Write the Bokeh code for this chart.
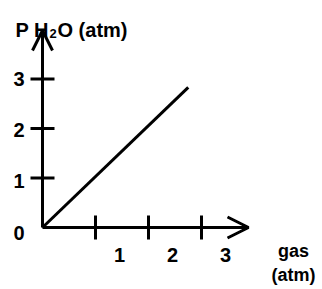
from bokeh.plotting import figure
from bokeh.models import Range1d, Arrow, OpenHead
from bokeh.core.properties import value
from bokeh.embed import file_html
from bokeh.resources import INLINE

# data
gas = [0.0, 2.75]
p_h2o = [0.0, 2.83]
x_ticks = [1, 2, 3]
x_tick_labels = ["1", "2", "3"]
y_ticks = [0, 1, 2, 3]
y_tick_labels = ["0", "1", "2", "3"]
y_title_parts = ["P H", "2", "O (atm)"]
x_title = ["gas", "(atm)"]

W, H = 322, 289
ox, oy = 42, 227     # canvas px of origin
sx, sy = 53.0, 49.5  # px per unit

p = figure(width=W, height=H, output_backend="svg", toolbar_location=None,
           x_range=Range1d(-ox / sx, (W - ox) / sx),
           y_range=Range1d(-(H - oy) / sy, oy / sy),
           min_border=0, background_fill_color="white")
p.xaxis.visible = False
p.yaxis.visible = False
p.grid.visible = False
p.outline_line_color = None

FONT = value("Liberation Sans")
BLACK = "#000000"
LW = 3

# axes with arrows
x_tip = (248 - ox) / sx
y_tip = (oy - 30) / sy
p.add_layout(Arrow(x_start=0, y_start=0, x_end=x_tip, y_end=0, line_width=LW,
                   line_color=BLACK, end=OpenHead(size=21, line_width=LW, line_color=BLACK)))
p.add_layout(Arrow(x_start=0, y_start=0, x_end=0, y_end=y_tip, line_width=LW,
                   line_color=BLACK, end=OpenHead(size=20, line_width=LW, line_color=BLACK)))

# tick marks
tx = 12 / sx
ty = 12 / sy
yt = [v for v in y_ticks if v > 0]
p.segment(x0=[-tx] * len(yt), y0=yt, x1=[tx] * len(yt), y1=yt, line_width=LW, line_color=BLACK)
p.segment(x0=x_ticks, y0=[-ty] * len(x_ticks), x1=x_ticks, y1=[ty] * len(x_ticks),
          line_width=LW, line_color=BLACK)

# data line
p.line(gas, p_h2o, line_width=LW, line_color=BLACK)

# tick labels
p.text(x=[(24 - ox) / sx] * len(y_ticks), y=y_ticks, text=y_tick_labels, text_font=FONT,
       text_font_style="bold", text_font_size="20px", text_align="right",
       text_baseline="middle", y_offset=[5, 3, 1, 0], text_color=BLACK)
p.text(x=x_ticks, y=[-(254 - oy) / sy] * len(x_ticks), text=x_tick_labels, text_font=FONT,
       text_font_style="bold", text_font_size="20px", text_align="center",
       text_baseline="middle", x_offset=24, text_color=BLACK)

# y axis title with subscript
tx0 = (15 - ox) / sx
ty0 = (oy - 29) / sy
p.text(x=[tx0], y=[ty0], text=[y_title_parts[0]], text_font=FONT, text_font_style="bold",
       text_font_size="20px", text_align="left", text_baseline="alphabetic", text_color=BLACK)
p.text(x=[tx0], y=[ty0], text=[y_title_parts[1]], text_font=FONT, text_font_style="bold",
       text_font_size="13px", text_align="left", text_baseline="alphabetic",
       x_offset=34, y_offset=4, text_color=BLACK)
p.text(x=[tx0], y=[ty0], text=[y_title_parts[2]], text_font=FONT, text_font_style="bold",
       text_font_size="20px", text_align="left", text_baseline="alphabetic",
       x_offset=42, text_color=BLACK)

# x axis title
p.text(x=[(293 - ox) / sx] * 2, y=[(oy - 250) / sy, (oy - 274) / sy], text=x_title,
       text_font=FONT, text_font_style="bold", text_font_size="18px",
       text_align="center", text_baseline="middle", text_color=BLACK)

open("out.html", "w").write(file_html(p, INLINE))
